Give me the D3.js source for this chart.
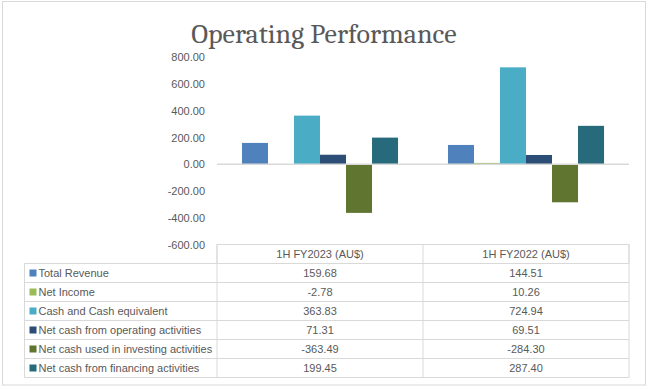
<!DOCTYPE html>
<html><head><meta charset="utf-8">
<script src="https://cdn.jsdelivr.net/npm/d3@7"></script>
<style>
html,body{margin:0;padding:0;background:#fff;}
svg{display:block;}
</style></head>
<body>
<svg id="chart" width="648" height="390"></svg>
<script>
const categories = ["1H FY2023 (AU$)", "1H FY2022 (AU$)"];
const seriesNames = ["Total Revenue", "Net Income", "Cash and Cash equivalent",
  "Net cash from operating activities", "Net cash used in investing activities",
  "Net cash from financing activities"];
const totalRevenue = [159.68, 144.51];
const netIncome = [-2.78, 10.26];
const cashEquivalent = [363.83, 724.94];
const netCashOperating = [71.31, 69.51];
const netCashInvesting = [-363.49, -284.30];
const netCashFinancing = [199.45, 287.40];
const yTicks = [800, 600, 400, 200, 0, -200, -400, -600];
const colors = ["#4F81BD", "#9BBB59", "#4BACC6", "#2C4D75", "#5F7530", "#276A7C"];

const seriesValues = [totalRevenue, netIncome, cashEquivalent, netCashOperating, netCashInvesting, netCashFinancing];

const svg = d3.select("#chart");
const font = "'Liberation Sans', Arial, sans-serif";
const textColor = "#595959";
const gridColor = "#D9D9D9";

// outer border
svg.append("rect").attr("x", 2.5).attr("y", 1.5).attr("width", 643).attr("height", 383.5)
  .attr("fill", "#fff").attr("stroke", gridColor).attr("stroke-width", 1);

// title
svg.append("text").attr("x", 324).attr("y", 43).attr("text-anchor", "middle")
  .attr("font-family", "Cambria, 'Liberation Serif', serif").attr("font-size", 28)
  .attr("fill", textColor).text("Operating Performance");

const plotLeft = 217, plotRight = 629;
const y = d3.scaleLinear().domain([-600, 800]).range([244.5, 57.3]);
const x0 = d3.scaleBand().domain(categories).range([plotLeft, plotRight]).padding(0);
const x1 = d3.scaleBand().domain(seriesNames).range([0, x0.bandwidth()]).paddingInner(0).paddingOuter(0.96);

// y axis labels
const yAxis = d3.axisLeft(y).tickValues(yTicks).tickSize(0).tickPadding(0)
  .tickFormat(d => d.toFixed(2));
const gy = svg.append("g").attr("transform", "translate(205,0)").call(yAxis);
gy.select(".domain").remove();
gy.selectAll("text").attr("font-family", font).attr("font-size", 11).attr("fill", textColor);

// bars
const groups = svg.append("g").selectAll("g").data(categories).join("g")
  .attr("transform", d => `translate(${x0(d)},0)`);
groups.selectAll("rect").data((c, ci) => seriesNames.map((s, si) => ({s, si, v: seriesValues[si][ci]})))
  .join("rect")
  .attr("x", d => x1(d.s))
  .attr("width", x1.bandwidth())
  .attr("y", d => y(Math.max(0, d.v)))
  .attr("height", d => Math.abs(y(d.v) - y(0)))
  .attr("fill", d => colors[d.si]);

// zero line
svg.append("line").attr("x1", plotLeft).attr("x2", plotRight).attr("y1", y(0)).attr("y2", y(0))
  .attr("stroke", gridColor).attr("stroke-width", 1.5);

// data table
const tableTop = y(-600);
const rowH = 19;
const legendLeft = 24.5;
const lineCol = gridColor;
const tbl = svg.append("g");
// header row
tbl.append("rect").attr("x", plotLeft).attr("y", tableTop).attr("width", plotRight - plotLeft).attr("height", rowH)
  .attr("fill", "none").attr("stroke", lineCol);
categories.forEach(c => {
  tbl.append("text").attr("x", x0(c) + x0.bandwidth() / 2).attr("y", tableTop + rowH / 2 + 4)
    .attr("text-anchor", "middle").attr("font-family", font).attr("font-size", 11)
    .attr("fill", textColor).text(c);
});
// column dividers
x0.domain().forEach(c => {
  tbl.append("line").attr("x1", x0(c)).attr("x2", x0(c)).attr("y1", tableTop).attr("y2", tableTop + rowH * 7)
    .attr("stroke", lineCol);
});
tbl.append("line").attr("x1", plotRight).attr("x2", plotRight).attr("y1", tableTop).attr("y2", tableTop + rowH * 7)
  .attr("stroke", lineCol);
tbl.append("line").attr("x1", legendLeft).attr("x2", legendLeft).attr("y1", tableTop + rowH).attr("y2", tableTop + rowH * 7)
  .attr("stroke", lineCol);
seriesNames.forEach((s, i) => {
  const ry = tableTop + rowH * (i + 1);
  tbl.append("line").attr("x1", legendLeft).attr("x2", plotRight).attr("y1", ry + rowH).attr("y2", ry + rowH)
    .attr("stroke", lineCol);
  if (i === 0) tbl.append("line").attr("x1", legendLeft).attr("x2", plotLeft).attr("y1", ry).attr("y2", ry).attr("stroke", lineCol);
  tbl.append("rect").attr("x", legendLeft + 5).attr("y", ry + rowH / 2 - 3.5).attr("width", 7).attr("height", 7)
    .attr("fill", colors[i]);
  tbl.append("text").attr("x", legendLeft + 14).attr("y", ry + rowH / 2 + 4)
    .attr("font-family", font).attr("font-size", 11).attr("fill", textColor).text(s);
  categories.forEach((c, ci) => {
    tbl.append("text").attr("x", x0(c) + x0.bandwidth() / 2).attr("y", ry + rowH / 2 + 4)
      .attr("text-anchor", "middle").attr("font-family", font).attr("font-size", 11)
      .attr("fill", textColor).text(seriesValues[i][ci].toFixed(2));
  });
});
</script>
</body></html>
